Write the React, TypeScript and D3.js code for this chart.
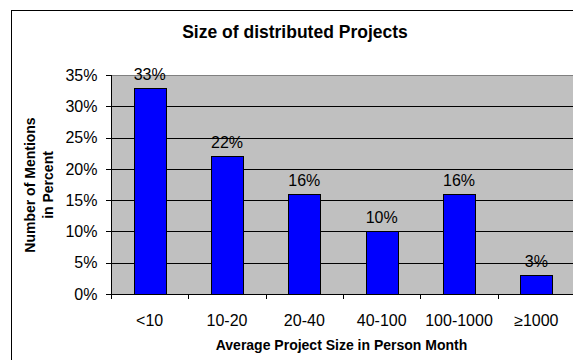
import React from "react";
import * as d3 from "d3";

const categories = ["<10", "10-20", "20-40", "40-100", "100-1000", "≥1000"];
const values = [33, 22, 16, 10, 16, 3];
const yTicks = [0, 5, 10, 15, 20, 25, 30, 35];

const W = 573;
const H = 360;
const plotLeft = 111;
const plotRight = 575;
const plotTop = 75;
const plotBottom = 294;
const font = "'Liberation Sans', Arial, sans-serif";

export default function App() {
  const x = d3
    .scaleBand<string>()
    .domain(categories)
    .range([plotLeft, plotRight])
    .paddingInner(0.585)
    .paddingOuter(0.2925);
  const y = d3.scaleLinear().domain([0, 35]).range([plotBottom, plotTop]);
  const step = x.step();
  const boundaries = d3.range(categories.length + 1).map((i) => plotLeft + i * step);

  return (
    <svg
      width={W}
      height={H}
      style={{ position: "absolute", left: 0, top: 0, background: "#fff" }}
      fontFamily={font}
    >
      <rect x={0} y={0} width={W} height={H} fill="#fff" />
      <rect x={11.5} y={10.5} width={W} height={H} fill="#fff" stroke="#000" strokeWidth={1} />
      <text x={295} y={38} textAnchor="middle" fontSize={17.5} fontWeight="bold" fill="#000">
        Size of distributed Projects
      </text>
      <rect
        x={plotLeft}
        y={plotTop}
        width={plotRight - plotLeft}
        height={plotBottom - plotTop}
        fill="#c0c0c0"
      />
      {yTicks.map((t) => (
        <g key={t}>
          {t > 0 && (
            <line
              x1={plotLeft}
              x2={plotRight}
              y1={Math.round(y(t)) + 0.5}
              y2={Math.round(y(t)) + 0.5}
              stroke={t === 35 ? "#808080" : "#000"}
              strokeWidth={1}
            />
          )}
          <line
            x1={plotLeft - 5}
            x2={plotLeft}
            y1={Math.round(y(t)) + 0.5}
            y2={Math.round(y(t)) + 0.5}
            stroke="#000"
          />
          <text
            x={97.5}
            y={y(t)}
            dy="0.36em"
            textAnchor="end"
            fontSize={16}
            fill="#000"
          >
            {t}%
          </text>
        </g>
      ))}
      {categories.map((c, i) => (
        <g key={c}>
          <rect
            x={Math.round(x(c)!) + 0.5}
            y={Math.round(y(values[i])) + 0.5}
            width={Math.round(x.bandwidth())}
            height={Math.round(plotBottom - y(values[i]))}
            fill="#0000ff"
            stroke="#000"
            strokeWidth={1}
          />
          <text
            x={x(c)! + x.bandwidth() / 2}
            y={y(values[i]) - 8}
            textAnchor="middle"
            fontSize={16}
            fill="#000"
          >
            {values[i]}%
          </text>
          <text
            x={x(c)! + x.bandwidth() / 2}
            y={326}
            textAnchor="middle"
            fontSize={16}
            fill="#000"
          >
            {c}
          </text>
        </g>
      ))}
      <line x1={plotLeft + 0.5} x2={plotLeft + 0.5} y1={plotTop} y2={plotBottom} stroke="#000" />
      <line x1={plotLeft} x2={plotRight} y1={plotBottom + 0.5} y2={plotBottom + 0.5} stroke="#000" />
      {boundaries.map((b, i) => (
        <line
          key={i}
          x1={Math.round(b) + 0.5}
          x2={Math.round(b) + 0.5}
          y1={plotBottom}
          y2={plotBottom + 5}
          stroke="#000"
        />
      ))}
      <text x={341.5} y={350} textAnchor="middle" fontSize={14} fontWeight="bold" fill="#000">
        Average Project Size in Person Month
      </text>
      <g transform="translate(0,185) rotate(-90)">
        <text x={0} y={35} textAnchor="middle" fontSize={14} fontWeight="bold" fill="#000">
          Number of Mentions
        </text>
        <text x={0} y={53} textAnchor="middle" fontSize={14} fontWeight="bold" fill="#000">
          in Percent
        </text>
      </g>
    </svg>
  );
}
